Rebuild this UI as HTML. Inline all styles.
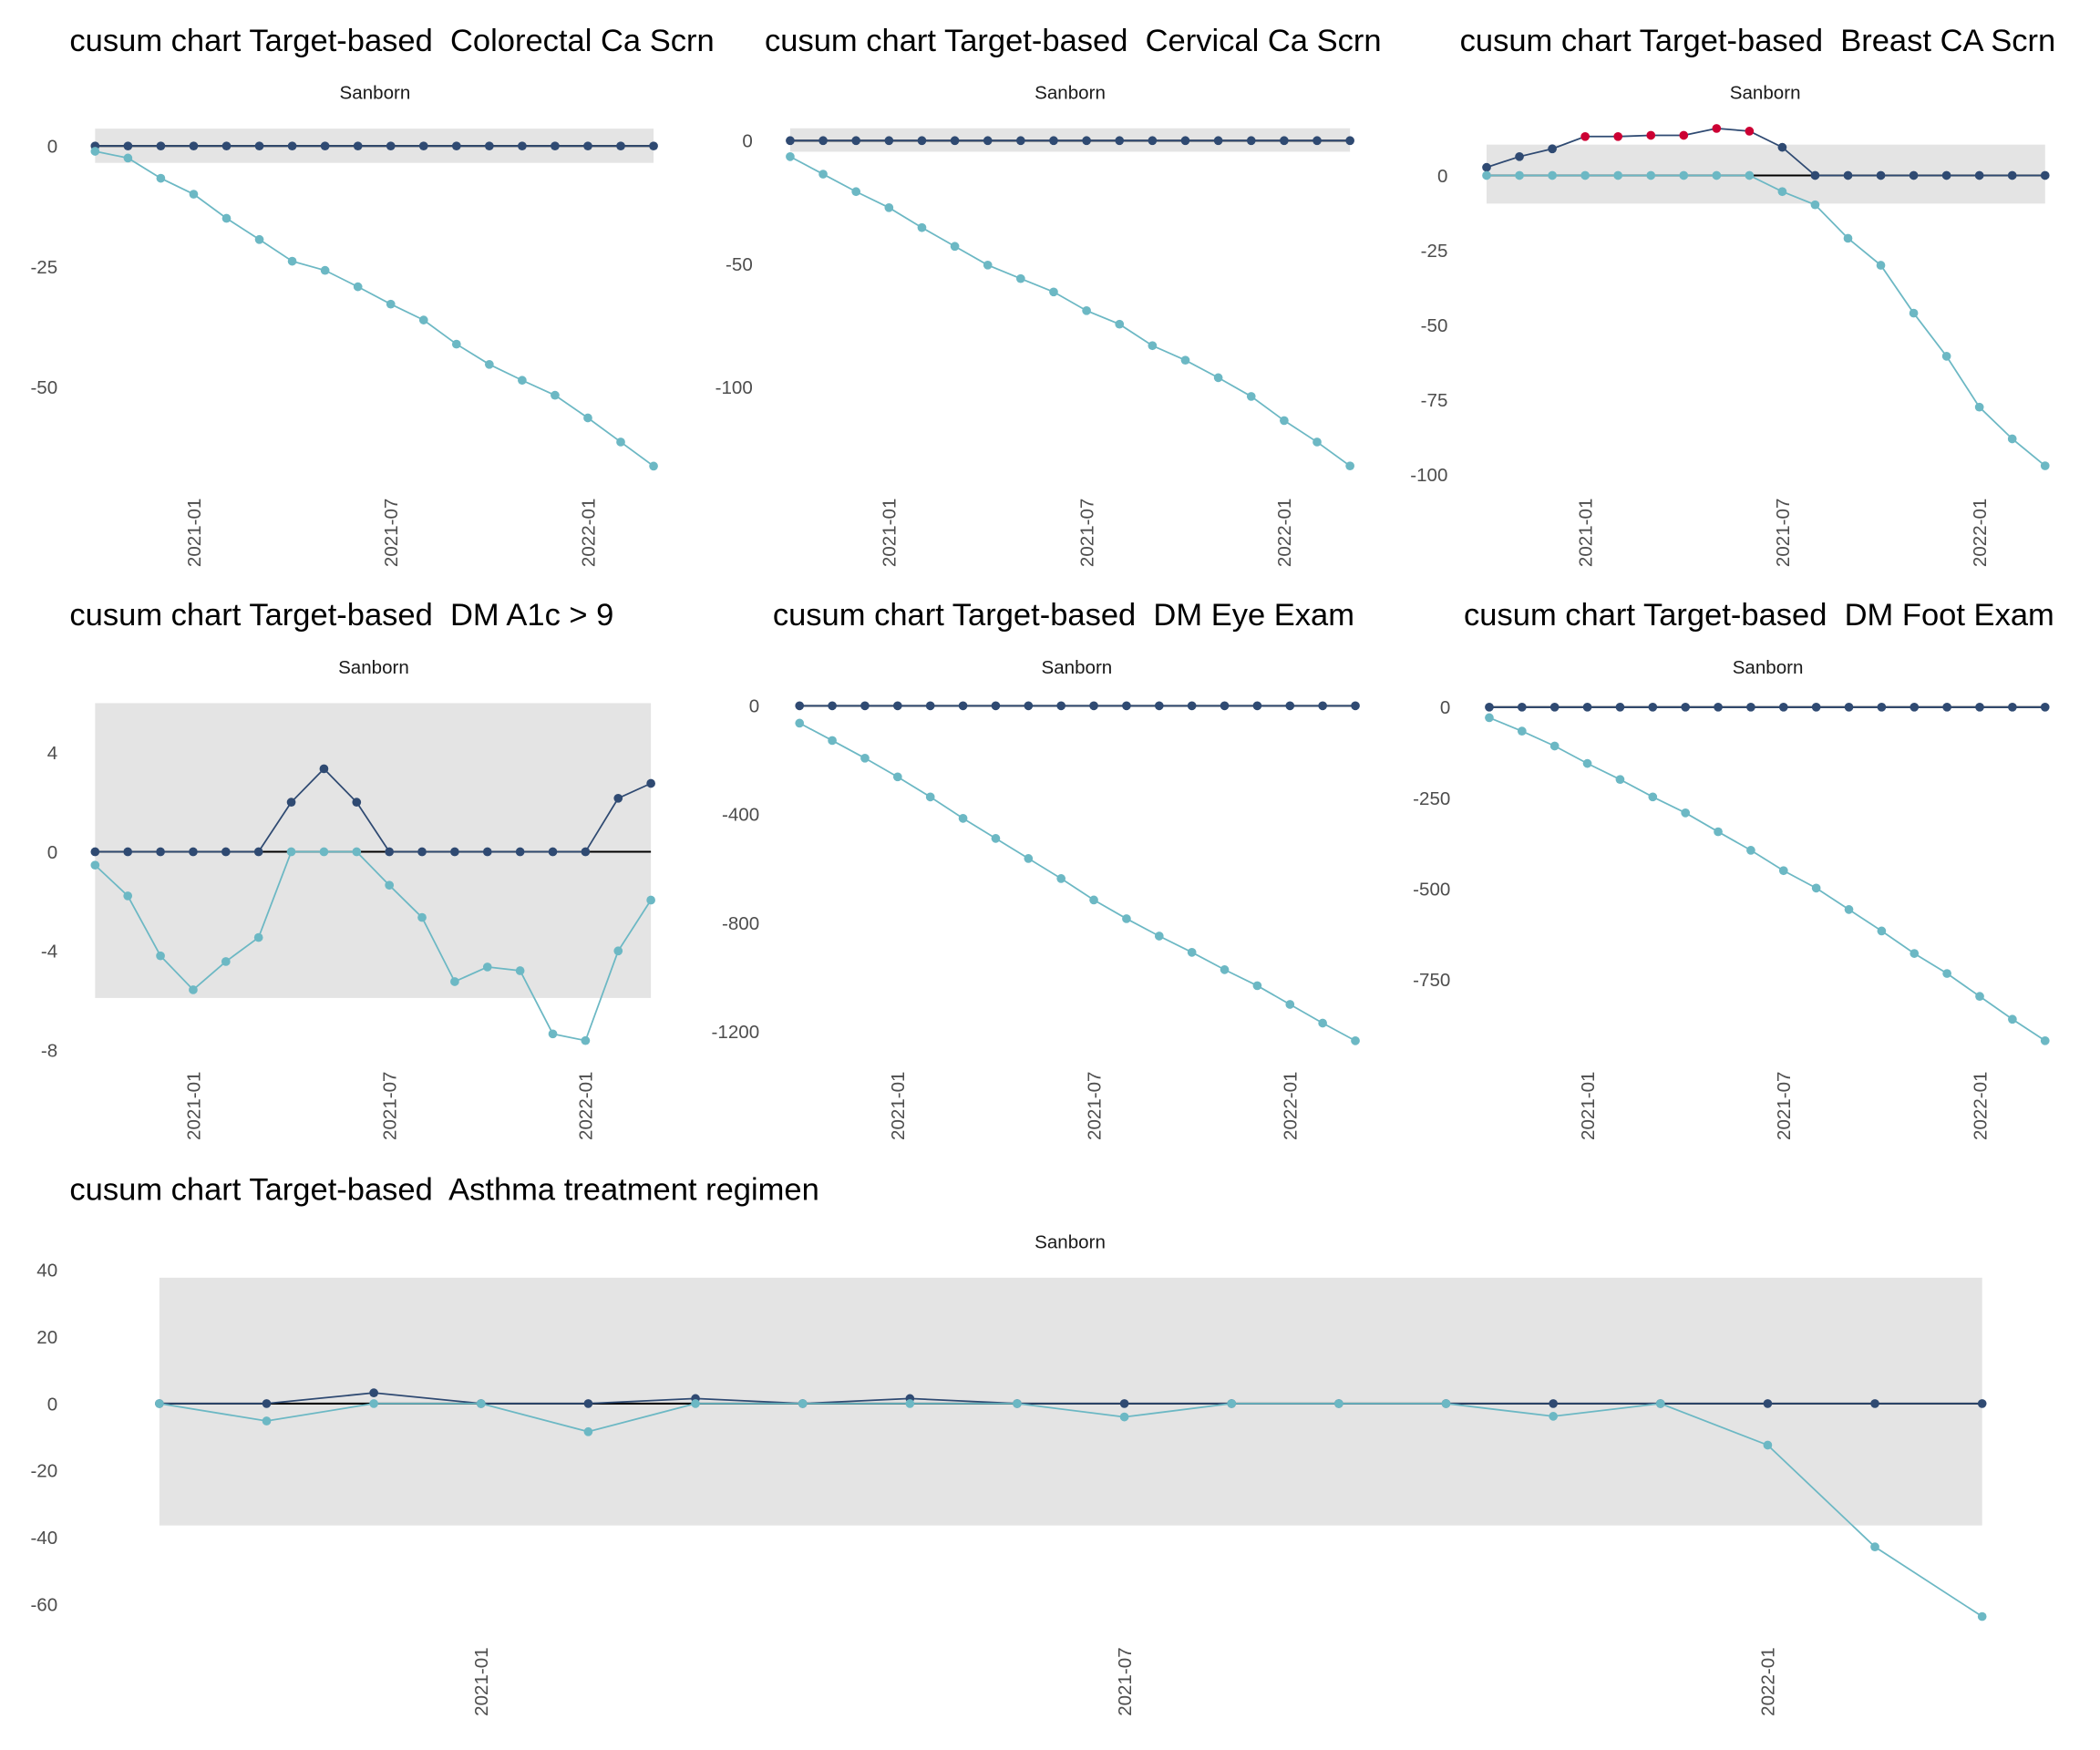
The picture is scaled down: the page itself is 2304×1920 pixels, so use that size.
<!DOCTYPE html>
<html><head><meta charset="utf-8"><style>
html,body{margin:0;padding:0;background:#fff}
svg{display:block}
text{font-family:"Liberation Sans",Arial,sans-serif;white-space:pre}
</style></head><body>
<svg id="chart" width="2304" height="1920" viewBox="0 0 1568 1306.67" xmlns="http://www.w3.org/2000/svg"></svg>
<script>
const months = ["2020-10","2020-11","2020-12","2021-01","2021-02","2021-03","2021-04","2021-05","2021-06","2021-07","2021-08","2021-09","2021-10","2021-11","2021-12","2022-01","2022-02","2022-03"];
const tickMonths = ["2021-01","2021-07","2022-01"];

const colorectalUpper = [0,0,0,0,0,0,0,0,0,0,0,0,0,0,0,0,0,0];
const colorectalLower = [-1.1,-2.5,-6.7,-10,-15,-19.4,-23.9,-25.8,-29.2,-32.8,-36.1,-41.1,-45.3,-48.6,-51.7,-56.4,-61.4,-66.4];
const colorectalTicks = [0,-25,-50];

const cervicalUpper = [0,0,0,0,0,0,0,0,0,0,0,0,0,0,0,0,0,0];
const cervicalLower = [-6.5,-13.6,-20.7,-27.2,-35.3,-42.9,-50.5,-56,-61.4,-69,-74.5,-83.2,-89.1,-96.2,-103.8,-113.6,-122.3,-132];
const cervicalTicks = [0,-50,-100];

const breastUpper = [2.7,6.3,8.9,13,13,13.4,13.4,15.7,14.8,9.4,0,0,0,0,0,0,0,0];
const breastLower = [0,0,0,0,0,0,0,0,0,-5.4,-9.8,-21,-30,-46,-60.4,-77.4,-88,-97];
const breastSignal = [false,false,false,true,true,true,true,true,true,false,false,false,false,false,false,false,false,false];
const breastTicks = [0,-25,-50,-75,-100];

const a1cUpper = [0,0,0,0,0,0,2,3.35,2,0,0,0,0,0,0,0,2.16,2.76];
const a1cLower = [-0.54,-1.78,-4.2,-5.57,-4.43,-3.46,0,0,0,-1.35,-2.65,-5.24,-4.65,-4.8,-7.35,-7.62,-4,-1.95];
const a1cTicks = [4,0,-4,-8];

const eyeUpper = [0,0,0,0,0,0,0,0,0,0,0,0,0,0,0,0,0,0];
const eyeLower = [-64,-128,-193,-262,-336,-415,-489,-563,-637,-716,-785,-849,-909,-973,-1032,-1101,-1170,-1235];
const eyeTicks = [0,-400,-800,-1200];

const footUpper = [0,0,0,0,0,0,0,0,0,0,0,0,0,0,0,0,0,0];
const footLower = [-29,-66,-107,-155,-199,-247,-291,-343,-394,-450,-498,-557,-616,-678,-733,-796,-859,-918];
const footTicks = [0,-250,-500,-750];

const asthmaUpper = [0,0,3.2,0,0,1.5,0,1.5,0,0,0,0,0,0,0,0,0,0];
const asthmaLower = [0,-5.2,0,0,-8.4,0,0,0,0,-4,0,0,0,-3.8,0,-12.4,-42.8,-63.6];
const asthmaTicks = [40,20,0,-20,-40,-60];

const NS = "http://www.w3.org/2000/svg";
const svg = document.getElementById("chart");
function mk(tag, attrs, parent){
  const e = document.createElementNS(NS, tag);
  for (const k in attrs) e.setAttribute(k, attrs[k]);
  (parent||svg).appendChild(e);
  return e;
}

function panel(cfg){
  const g = mk("g", {});
  
  
  const xs = i => cfg.x0 + (cfg.x1 - cfg.x0) * i / (months.length - 1);
  const ys = v => cfg.y0 - v * cfg.k;
  const t = mk("text", {x: cfg.tx, y: cfg.ty, "font-size": 23.5, fill: "#000"}, g);
  t.textContent = "cusum chart Target-based  " + cfg.title;
  
  
  const s = mk("text", {x: cfg.sx, y: cfg.ty + 36, "font-size": 14, fill: "#1a1a1a", "text-anchor": "middle"}, g);
  s.textContent = "Sanborn";
  
  
  if (cfg.band){
    const b = mk("rect", {x: cfg.x0, y: ys(cfg.band[0]), width: cfg.x1 - cfg.x0, height: ys(cfg.band[1]) - ys(cfg.band[0]), fill: "#e4e4e4"}, g);
    
    
  }
  cfg.ticks.forEach(v => {
    const tt = mk("text", {x: cfg.yl, y: ys(v) + 5, "font-size": 14, fill: "#4d4d4d", "text-anchor": "end"}, g);
    tt.textContent = String(v);
    
    
  });
  tickMonths.forEach(m => {
    const i = months.indexOf(m);
    const X = xs(i) + 5, Y = cfg.xl;
    const tt = mk("text", {x: X, y: Y, "font-size": 14, fill: "#4d4d4d", "text-anchor": "end", transform: `rotate(-90 ${X} ${Y})`}, g);
    tt.textContent = m;
    
    
  });
  const z = mk("line", {x1: cfg.x0, x2: cfg.x1, y1: ys(0), y2: ys(0), stroke: "#000", "stroke-width": 1.4}, g);
  
  
  const series = [[cfg.upper, "#2f4a72", "upper-cusum"], [cfg.lower, "#6cb8c4", "lower-cusum"]];
  series.forEach(([arr, col, nm]) => {
    const p = mk("polyline", {points: arr.map((v,i)=>xs(i)+","+ys(v)).join(" "), fill: "none", stroke: col, "stroke-width": 1.2}, g);
    
    
    arr.forEach((v,i) => {
      const red = nm === "upper-cusum" && cfg.signal && cfg.signal[i];
      const c = mk("circle", {cx: xs(i), cy: ys(v), r: 3.3, fill: red ? "#cc0033" : col}, g);
      
      
    });
  });
}

panel({name:"colorectal", title:"Colorectal Ca Scrn", upper:colorectalUpper, lower:colorectalLower, ticks:colorectalTicks,
  x0:71, x1:488, y0:109, k:3.6, band:[3.6,-3.5], tx:52, ty:38, sx:280, yl:43, xl:372});
panel({name:"cervical", title:"Cervical Ca Scrn", upper:cervicalUpper, lower:cervicalLower, ticks:cervicalTicks,
  x0:590, x1:1008, y0:105, k:1.84, band:[5,-4.5], tx:571, ty:38, sx:799, yl:562, xl:372});
panel({name:"breast", title:"Breast CA Scrn", upper:breastUpper, lower:breastLower, signal:breastSignal, ticks:breastTicks,
  x0:1110, x1:1527, y0:131, k:2.235, band:[10.3,-9.4], tx:1090, ty:38, sx:1318, yl:1081, xl:372});
panel({name:"dm-a1c", title:"DM A1c > 9", upper:a1cUpper, lower:a1cLower, ticks:a1cTicks,
  x0:71, x1:486, y0:636, k:18.5, band:[6,-5.9], tx:52, ty:467, sx:279, yl:43, xl:800});
panel({name:"dm-eye", title:"DM Eye Exam", upper:eyeUpper, lower:eyeLower, ticks:eyeTicks,
  x0:597, x1:1012, y0:527, k:0.2025, band:null, tx:577, ty:467, sx:804, yl:567, xl:800});
panel({name:"dm-foot", title:"DM Foot Exam", upper:footUpper, lower:footLower, ticks:footTicks,
  x0:1112, x1:1527, y0:528, k:0.2713, band:null, tx:1093, ty:467, sx:1320, yl:1083, xl:800});
panel({name:"asthma", title:"Asthma treatment regimen", upper:asthmaUpper, lower:asthmaLower, ticks:asthmaTicks,
  x0:119, x1:1480, y0:1048, k:2.5, band:[37.6,-36.4], tx:52, ty:896, sx:799, yl:43, xl:1230});
</script>
</body></html>
